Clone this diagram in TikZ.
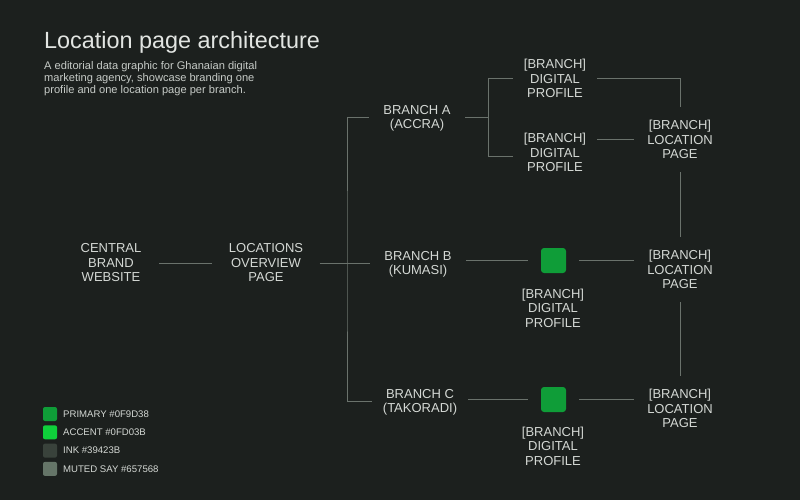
\documentclass[tikz,border=0pt]{standalone}
\usepackage{fontspec}
\setmainfont{Liberation Sans}
\usetikzlibrary
  {
    positioning, % place nodes relative to other nodes
    calc,
  }

% last line without depth, so that parentheses do not shift the text
\newcommand{\nodepthline}[1]{\raisebox{0pt}[\height][0pt]{#1}}

\begin{document}
\begin{tikzpicture}
    [
      x=1pt, y=-1pt,
      % Styles
      box/.style={align=center, inner sep=0pt, text=nodetext,
        font=\fontsize{13}{14.5}\selectfont},
      branch box/.style={box, minimum width=96pt},
      profile box/.style={box, minimum width=84pt},
      page box/.style={box, minimum width=92pt, minimum height=65pt},
      marker/.style={fill=primarycolor, rounded corners=3pt, minimum size=25pt,
        inner sep=0pt, outer sep=13pt},
      link/.style={draw=linecolor, line width=0.8pt},
      swatch/.style={minimum size=14pt, inner sep=0pt, rounded corners=2pt},
      swatch text/.style={anchor=west, inner sep=0pt, text=nodetext,
        font=\fontsize{9.6}{11}\selectfont}
    ]

    % Colors
    \definecolor{bgcolor}{HTML}{1C201E}
    \definecolor{primarycolor}{HTML}{0F9D38}
    \definecolor{accentcolor}{HTML}{0FD03B}
    \definecolor{inkcolor}{HTML}{39423B}
    \definecolor{mutedcolor}{HTML}{657568}
    \definecolor{linecolor}{HTML}{6A726C}
    \definecolor{nodetext}{HTML}{D4D8D4}
    \definecolor{titlecolor}{HTML}{E2E5E2}
    \definecolor{subtext}{HTML}{C6CBC7}

    \fill [bgcolor] (0,0) rectangle (800,500);
    \useasboundingbox (0,0) rectangle (800,500);

    % heading
    \node [anchor=base west, inner sep=0pt, text=titlecolor,
      font=\fontsize{23.4}{27}\selectfont] (title) at (44,49) {Location page architecture};
    \node [anchor=north west, align=left, inner sep=0pt, text=subtext,
      font=\fontsize{11.1}{12}\selectfont] (subtitle) at (44,61)
    {
      A editorial data graphic for Ghanaian digital\\
      marketing agency, showcase branding one\\
      profile and one location page per branch.
    };

    % main chain
    \node [box, minimum width=96pt]  (central) at (111,263) {CENTRAL\\BRAND\\WEBSITE};
    \node [box, minimum width=107pt] (overview) at (266,263) {LOCATIONS\\OVERVIEW\\PAGE};

    % branches
    \node [branch box] (branchA) at (417,117) {BRANCH A\\\nodepthline{(ACCRA)}};
    \node [branch box] (branchB) at (418,263) {BRANCH B\\\nodepthline{(KUMASI)}};
    \node [branch box] (branchC) at (420,401) {BRANCH C\\\nodepthline{(TAKORADI)}};

    % profiles
    \node [profile box] (profileA1) at (555,78.5) {[BRANCH]\\DIGITAL\\PROFILE};
    \node [profile box] (profileA2) at (555,152.5) {[BRANCH]\\DIGITAL\\PROFILE};
    \node [marker] (markerB) at (553.5,260.5) {};
    \node [marker] (markerC) at (553.5,399.5) {};
    \node [profile box] (profileB) at (553,308) {[BRANCH]\\DIGITAL\\PROFILE};
    \node [profile box] (profileC) at (553,446) {[BRANCH]\\DIGITAL\\PROFILE};

    % location pages
    \node [page box] (pageA) at (680,139.5) {[BRANCH]\\LOCATION\\PAGE};
    \node [page box] (pageB) at (680,269.5) {[BRANCH]\\LOCATION\\PAGE};
    \node [page box] (pageC) at (680,408.5) {[BRANCH]\\LOCATION\\PAGE};

    % connectors
    \coordinate (trunk) at (347,263);
    \coordinate (forkA) at (488,117);

    \draw [link] (central) -- (overview);
    \draw [link] (overview.east) -- (branchB.west);
    \draw [link] (branchA.west) -| (trunk) |- (branchC.west);

    \draw [link] (branchA.east) -- (forkA);
    \draw [link] (forkA) |- (profileA1.west);
    \draw [link] (forkA) |- ([yshift=-4pt]profileA2.west);
    \draw [link] (profileA1.east) -| (pageA.north);
    \draw [link] (profileA2.east |- pageA.west) -- (pageA.west);

    \draw [link] (branchB.east |- markerB.west) -- (markerB.west);
    \draw [link] (markerB.east) -- (markerB.east -| pageB.west);
    \draw [link] (branchC.east |- markerC.west) -- (markerC.west);
    \draw [link] (markerC.east) -- (markerC.east -| pageC.west);

    \draw [link] (pageA.south) -- (pageB.north);
    \draw [link] (pageB.south) -- (pageC.north);

    % legend
    \foreach \col/\txt [count=\i] in
      {primarycolor/PRIMARY \#0F9D38, accentcolor/ACCENT \#0FD03B,
       inkcolor/INK \#39423B, mutedcolor/MUTED SAY \#657568}
    {
      \pgfmathsetmacro{\ypos}{414+(\i-1)*18.3}
      \node [swatch, fill=\col] (swatch\i) at (50,\ypos) {};
      \node [swatch text] (swatchtext\i) at (63,\ypos) {\txt};
    }
\end{tikzpicture}
\end{document}
